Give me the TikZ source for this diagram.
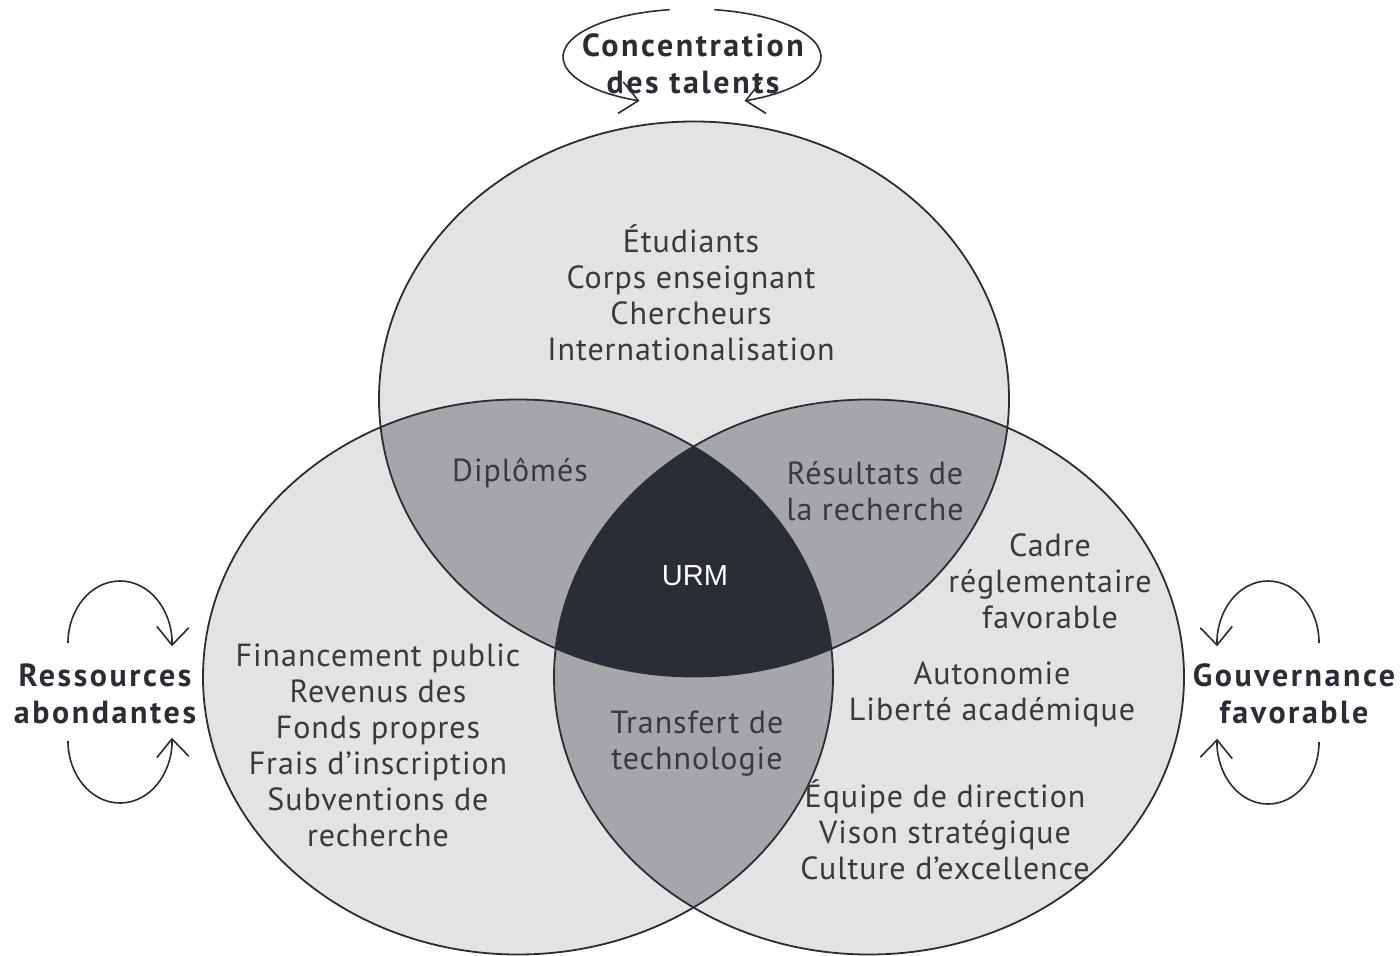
\documentclass[tikz,border=0pt]{standalone}
\usepackage{fontspec}
\setmainfont[LetterSpace=3]{PT Sans}
\newfontfamily\labfont[LetterSpace=8]{PT Sans Bold}
\newfontfamily\urmfont{Liberation Sans}
\usetikzlibrary{arrows.meta}
\definecolor{lightg}{HTML}{E3E3E4}
\definecolor{midg}{HTML}{A5A6AA}
\definecolor{darkg}{HTML}{2B2D34}
\definecolor{txt}{HTML}{3A3A3D}
\begin{document}
\begin{tikzpicture}[x=0.5pt,y=-0.5pt,
  outline/.style={draw=darkg,line width=0.9pt},
  body/.style={text=txt,align=center,font=\fontsize{16}{18}\selectfont},
  lab/.style={text=darkg,align=center,font=\fontsize{16}{18.5}\labfont},
  loop/.style={draw=darkg,line width=0.8pt,-{Straight Barb[length=9pt,width=16pt,line width=0.8pt]}}]
\useasboundingbox (0,0) rectangle (1400,956);
\coordinate (T) at (694,399);
\coordinate (L) at (518,677);
\coordinate (R) at (869,677);
% base fills
\fill[lightg] (T) ellipse [x radius=157.5pt,y radius=138.75pt];
\fill[lightg] (L) ellipse [x radius=157.5pt,y radius=138.75pt];
\fill[lightg] (R) ellipse [x radius=157.5pt,y radius=138.75pt];
% pairwise
\begin{scope}
  \clip (T) ellipse [x radius=157.5pt,y radius=138.75pt];
  \fill[midg] (L) ellipse [x radius=157.5pt,y radius=138.75pt];
  \fill[midg] (R) ellipse [x radius=157.5pt,y radius=138.75pt];
\end{scope}
\begin{scope}
  \clip (L) ellipse [x radius=157.5pt,y radius=138.75pt];
  \fill[midg] (R) ellipse [x radius=157.5pt,y radius=138.75pt];
\end{scope}
% triple
\begin{scope}
  \clip (T) ellipse [x radius=157.5pt,y radius=138.75pt];
  \clip (L) ellipse [x radius=157.5pt,y radius=138.75pt];
  \fill[darkg] (R) ellipse [x radius=157.5pt,y radius=138.75pt];
\end{scope}
% outlines
\draw[outline] (T) ellipse [x radius=157.5pt,y radius=138.75pt];
\draw[outline] (L) ellipse [x radius=157.5pt,y radius=138.75pt];
\draw[outline] (R) ellipse [x radius=157.5pt,y radius=138.75pt];

% texts
\node[body] (top) at (691,292.5) {Étudiants\\Corps enseignant\\Chercheurs\\Internationalisation};
\node[body] (dipl) at (520,473) {Diplômés};
\node[body] (res) at (875,491.5) {Résultats de\\la recherche};
\node[text=white,font=\fontsize{14.5}{16}\urmfont] (urm) at (695,576) {URM};
\node[body] (cadre) at (1050,581) {Cadre\\réglementaire\\favorable};
\node[body] (auto) at (992,694) {Autonomie\\Liberté académique};
\node[body] (equipe) at (945,830) {Équipe de direction\\Vison stratégique\\Culture d’excellence};
\node[body] (fin) at (378,745.5) {Financement public\\Revenus des\\Fonds propres\\Frais d’inscription\\Subventions de\\recherche};
\node[body] (trans) at (697,744) {Transfert de\\technologie};

% outer labels
\node[lab] (conc) at (693,63.5) {Concentration\\des talents};
\node[lab] (ress) at (105,693.5) {Ressources\\abondantes};
\node[lab] (gouv) at (1294,693.5) {Gouvernance\\favorable};

% loops
\coordinate (tc) at (692,57);
\draw[loop] ([shift={(100:64.5pt and 24pt)}]tc) arc[start angle=100,end angle=246,x radius=64.5pt,y radius=24pt];
\draw[loop] ([shift={(80:64.5pt and 24pt)}]tc) arc[start angle=80,end angle=-66,x radius=64.5pt,y radius=24pt];

\coordinate (lu) at (120,643);
\coordinate (ll) at (120,741);
\draw[loop] ([shift={(180:26pt and 31pt)}]lu) arc[start angle=180,end angle=-3,x radius=26pt,y radius=31pt];
\draw[loop] ([shift={(180:26pt and 31pt)}]ll) arc[start angle=180,end angle=363,x radius=26pt,y radius=31pt];

\coordinate (ru) at (1268,643);
\coordinate (rl) at (1268,742);
\draw[loop] ([shift={(0:25.5pt and 31pt)}]ru) arc[start angle=0,end angle=183,x radius=25.5pt,y radius=31pt];
\draw[loop] ([shift={(0:25.5pt and 31pt)}]rl) arc[start angle=0,end angle=-183,x radius=25.5pt,y radius=31pt];
\end{tikzpicture}
\end{document}
